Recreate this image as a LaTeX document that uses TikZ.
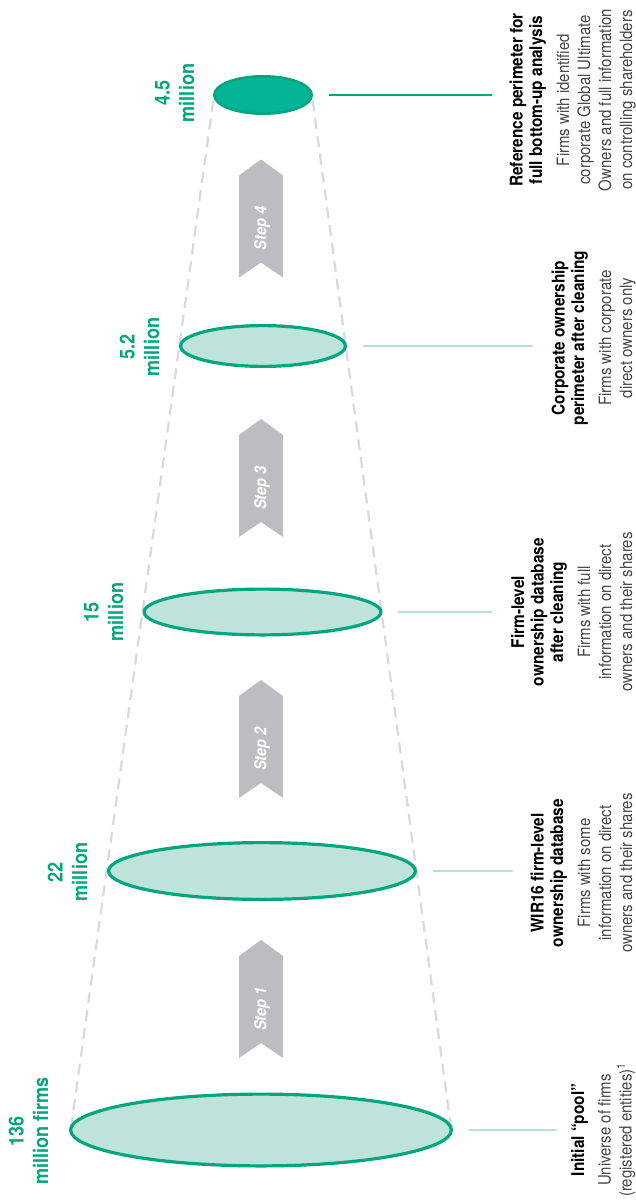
\documentclass[tikz,border=0pt]{standalone}
\usepackage{fontspec}
\setmainfont{TeX Gyre Heros}[FakeStretch=0.88]
\usetikzlibrary{shapes.geometric,calc}
\definecolor{wgreen}{RGB}{0,166,126}
\definecolor{wlight}{RGB}{189,227,218}
\definecolor{wdarkfill}{RGB}{5,180,150}
\definecolor{wdarkline}{RGB}{0,166,128}
\definecolor{wline}{RGB}{184,226,216}
\definecolor{wdash}{RGB}{217,217,217}
\definecolor{wstep}{RGB}{188,189,193}
\definecolor{wtext}{RGB}{70,70,70}
\newcommand\ttl[1]{{\color{black}\fontsize{17.5}{20}\selectfont\bfseries #1}}
\begin{document}
\begin{tikzpicture}[x=1pt,y=-1pt,
 pool/.style={ellipse, draw=wgreen, line width=3.2pt, fill=wlight, inner sep=0pt},
 toppool/.style={ellipse, draw=wdarkline, line width=2.6pt, fill=wdarkfill, inner sep=0pt},
 conn/.style={draw=wline, line width=2.6pt, shorten <=15.5pt},
 topconn/.style={draw=wgreen, line width=2.4pt, shorten <=15.5pt},
 guide/.style={draw=wdash, line width=2.2pt, dash pattern=on 11pt off 7pt},
 stepshape/.style={fill=wstep},
 steplbl/.style={rotate=90, text=white, font=\fontsize{16.5}{18}\selectfont\bfseries\itshape, inner sep=0pt},
 numlbl/.style={rotate=90, anchor=base, inner sep=0pt, text=wgreen, font=\fontsize{20.5}{24.5}\selectfont\bfseries},
 desc/.style={rotate=90, anchor=base, inner sep=0pt, font=\fontsize{17}{21}\selectfont, text=wtext}]
\useasboundingbox (0,0) rectangle (636,1201);

% dashed guide lines
\draw[guide] (71,1128) -- (213.5,99);
\draw[guide] (451,1128) -- (312.5,99);

% step chevrons
\foreach \k/\t in {1/940,2/680,3/419,4/159.5}{
  \fill[stepshape] (239,\t+16) -- (261,\t) -- (283,\t+16) -- (283,\t+118) -- (261,\t+103) -- (239,\t+118) -- cycle;
  \node[steplbl] (s\k) at (262,\t+69) {Step \k};
}

% ellipses
\node[pool, minimum width=380.8pt, minimum height=71.8pt] (e1) at (261,1130) {};
\node[pool, minimum width=306.8pt, minimum height=56.8pt] (e2) at (262,871) {};
\node[pool, minimum width=236.8pt, minimum height=45.8pt] (e3) at (262.5,612) {};
\node[pool, minimum width=164.8pt, minimum height=40.8pt] (e4) at (263,346) {};
\node[toppool, minimum width=97.4pt, minimum height=37.4pt] (e5) at (263,95) {};

% number labels
\node[numlbl] (n1) at (48,1131) {\begin{tabular}[b]{@{}c@{}}136\\ million firms\end{tabular}};
\node[numlbl] (n2) at (87,872) {\begin{tabular}[b]{@{}c@{}}22\\ million\end{tabular}};
\node[numlbl] (n3) at (123,612) {\begin{tabular}[b]{@{}c@{}}15\\ million\end{tabular}};
\node[numlbl] (n4) at (159,347) {\begin{tabular}[b]{@{}c@{}}5.2\\ million\end{tabular}};
\node[numlbl] (n5) at (194,93) {\begin{tabular}[b]{@{}c@{}}4.5\\ million\end{tabular}};

% descriptions
\node[desc] (t1) at (631.5,1130) {\begin{tabular}[b]{@{}c@{}}\ttl{Initial “pool”}\\[5.5pt] Universe of firms\\ (registered entities)\textsuperscript{1}\end{tabular}};
\node[desc] (t2) at (632,873) {\begin{tabular}[b]{@{}c@{}}\ttl{WIR16 firm-level}\\[-1.5pt] \ttl{ownership database}\\[6pt] Firms with some\\ information on direct\\ owners and their shares\end{tabular}};
\node[desc] (t3) at (632,612) {\begin{tabular}[b]{@{}c@{}}\ttl{Firm-level}\\[-1.5pt] \ttl{ownership database}\\[-1.5pt] \ttl{after cleaning}\\[6pt] Firms with full\\ information on direct\\ owners and their shares\end{tabular}};
\node[desc] (t4) at (632,338) {\begin{tabular}[b]{@{}c@{}}\ttl{Corporate ownership}\\[-1.5pt] \ttl{perimeter after cleaning}\\[6pt] Firms with corporate\\ direct owners only\end{tabular}};
\node[desc] (t5) at (632,100) {\begin{tabular}[b]{@{}c@{}}\ttl{Reference perimeter for}\\[-1.5pt] \ttl{full bottom-up analysis}\\[6pt] Firms with identified\\ corporate Global Ultimate\\ Owners and full information\\ on controlling shareholders\end{tabular}};

% connectors
\draw[conn, shorten >=12pt] (e1.east) -- (e1.east -| t1.north);
\draw[conn, shorten >=16pt] (e2.east) -- (e2.east -| t2.north);
\draw[conn, shorten >=17pt] (e3.east) -- (e3.east -| t3.north);
\draw[conn, shorten >=17pt] (e4.east) -- (e4.east -| t4.north);
\draw[topconn, shorten >=16pt] (e5.east) -- (e5.east -| t5.north);
\end{tikzpicture}
\end{document}
